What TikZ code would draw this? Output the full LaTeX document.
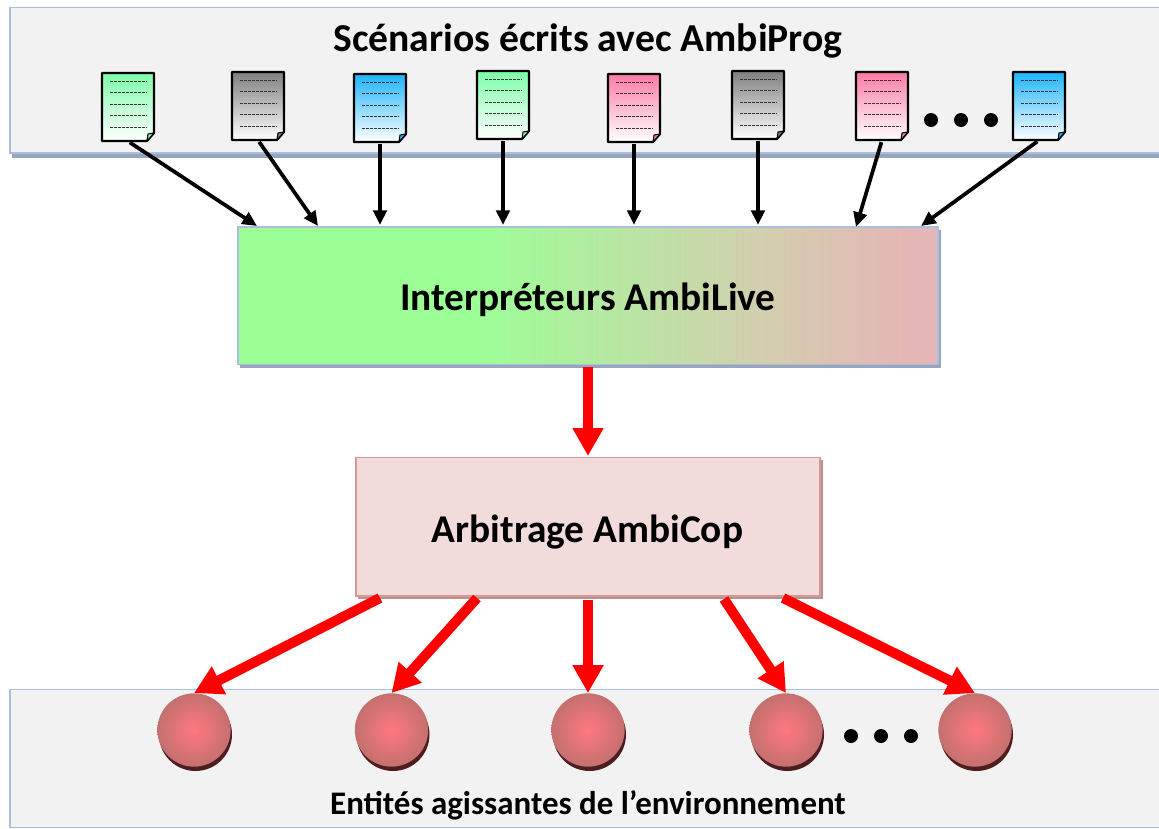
\documentclass[tikz,border=0pt]{standalone}
\usepackage{fontspec}
\setmainfont{Carlito}
\usetikzlibrary{arrows.meta,calc}
\definecolor{interpL}{HTML}{9CFF96}
\definecolor{interpM}{HTML}{D2CFAE}
\definecolor{interpR}{HTML}{E4B6B6}
\pgfdeclarehorizontalshading{interpshade}{100bp}{
  color(0bp)=(interpL); color(42bp)=(interpL); color(62bp)=(interpM); color(73bp)=(interpR); color(100bp)=(interpR)}
\definecolor{bandfill}{HTML}{F2F2F2}
\definecolor{bandline}{HTML}{A9BFDE}
\definecolor{bandshadow}{HTML}{98A5BA}
\definecolor{docgreen}{HTML}{7DFFA8}
\definecolor{docgray}{HTML}{7F7F7F}
\definecolor{docblue}{HTML}{1CB4FF}
\definecolor{docpink}{HTML}{FF7AA6}
\definecolor{entC}{HTML}{FF7880}
\definecolor{entO}{HTML}{C4706F}
\definecolor{entS}{HTML}{4E1E1E}
\definecolor{arbF}{HTML}{F2DCDB}
\definecolor{arbL}{HTML}{D99694}
\definecolor{arbS}{HTML}{B59392}
\tikzset{
  x=0.75pt,y=-0.75pt,
  band/.style={fill=bandfill,draw=bandline,line width=1pt},
  title/.style={font=\bfseries\fontsize{29.7}{32}\selectfont,text=black,inner sep=0pt},
  subtitle/.style={font=\bfseries\fontsize{24.7}{28}\selectfont,text=black,inner sep=0pt},
  blocklabel/.style={font=\bfseries\fontsize{29.5}{32}\selectfont,text=black,inner sep=0pt},
  thinarrow/.style={-{Triangle[length=11pt,width=10pt]},line width=2.8pt,black,shorten <=1.5pt},
  redarrow/.style={-{Triangle[length=21pt,width=22pt]},line width=7.5pt,red},
  entity/.style={circle,minimum size=55pt,inner sep=0pt,inner color=entC,outer color=entO},
  dotmark/.style={circle,fill=black,minimum width=9.5pt,minimum height=10.5pt,inner sep=0pt},
  docanchor/.style={rectangle,minimum width=39pt,minimum height=51pt,inner sep=0pt},
}
\newcommand{\docu}[4]{% name, left, top, colour
  \begin{scope}[shift={(#2,#3)}]
    \path[draw=black,line width=1.6pt,line join=round,top color=#4,bottom color=white]
      (0,0) -- (52,0) -- (52,60) -- (45,68) -- (0,68) -- cycle;
    \filldraw[fill=#4,draw=black,line width=0.8pt,line join=round] (45,68) -- (46,61) -- (52,60) -- cycle;
    \foreach \ly in {8,19.5,31,42.5,54}
      \draw[black!80,line width=0.6pt,dash pattern=on 2.6pt off 0.4pt] (8,\ly) -- (45,\ly);
    \node[docanchor] (#1) at (26,34) {};
  \end{scope}}
\begin{document}
\begin{tikzpicture}
\useasboundingbox (0,0) rectangle (1159,828);
\clip (0,0) rectangle (1159,828);
\fill[white] (0,0) rectangle (1159,828);
% bands
\fill[bandshadow] (12,153) rectangle (1170,157.5);
\draw[band] (10,7.5) rectangle (1170,153);
\draw[band] (10,689.5) rectangle (1170,827.5);
\node[title] (scen) at (588,41) {Scénarios écrits avec AmbiProg};
\node[subtitle] (ent) at (588,805) {Entités agissantes de l’environnement};
% documents
\docu{d1}{102}{73}{docgreen}
\docu{d2}{232}{72}{docgray}
\docu{d3}{354}{74}{docblue}
\docu{d4}{477}{71}{docgreen}
\docu{d5}{608}{74}{docpink}
\docu{d6}{732}{71}{docgray}
\docu{d7}{856}{72}{docpink}
\docu{d8}{1013}{72}{docblue}
\node[dotmark] (p1) at (931,120) {};
\node[dotmark] (p2) at (961,120) {};
\node[dotmark] (p3) at (991,120) {};
% interpreter
\fill[bandshadow] (240,230) rectangle (941,368);
\node[draw=bandline,line width=1pt,shading=interpshade,shading angle=0,minimum width=525pt,minimum height=103pt,inner sep=0pt] (interp) at (588,295.5) {};
\node[blocklabel] (interpText) at (588,300) {Interpréteurs AmbiLive};
% arbitrage
\fill[arbS] (358,460) rectangle (823,599);
\node[draw=arbL,fill=arbF,line width=1pt,minimum width=348pt,minimum height=104pt,inner sep=0pt] (arb) at (588,526.5) {};
\node[blocklabel] (arbText) at (587.5,532) {Arbitrage AmbiCop};
% entities
\foreach \n/\cx in {e1/194,e2/391.5,e3/588,e4/786,e5/975}{
  \fill[entS] (\cx+1.5,734.5) circle[radius=36.5];
  \node[entity] (\n) at (\cx,730) {};
}
\node[dotmark] (q1) at (851,736) {};
\node[dotmark] (q2) at (881,736) {};
\node[dotmark] (q3) at (911,736) {};
% connector ends
\coordinate (t1) at (257,226);
\coordinate (t2) at (318,226);
\coordinate (t3) at (380,225);
\coordinate (t4) at (503,225);
\coordinate (t5) at (634,225);
\coordinate (t6) at (758,225);
\coordinate (t7) at (856,227);
\coordinate (t8) at (921,226);
\draw[thinarrow] (d1.south) -- (t1);
\draw[thinarrow] (d2.south) -- (t2);
\draw[thinarrow] (d3.south) -- (t3);
\draw[thinarrow] (d4.south) -- (t4);
\draw[thinarrow] (d5.south) -- (t5);
\draw[thinarrow] (d6.south) -- (t6);
\draw[thinarrow] (d7.south) -- (t7);
\draw[thinarrow] (d8.south) -- (t8);
\coordinate (a0) at (588,367);
\coordinate (b0) at (588,456);
\draw[redarrow] (a0) -- (b0);
\coordinate (s1) at (380,598);
\coordinate (s2) at (477,598);
\coordinate (s3) at (588,600);
\coordinate (s4) at (724,599);
\coordinate (s5) at (783,598);
\draw[redarrow] (s1) -- (e1.north);
\draw[redarrow] (s2) -- (e2.north);
\draw[redarrow] (s3) -- (e3.north);
\draw[redarrow] (s4) -- (e4.north);
\draw[redarrow] (s5) -- (e5.north);
\end{tikzpicture}
\end{document}
